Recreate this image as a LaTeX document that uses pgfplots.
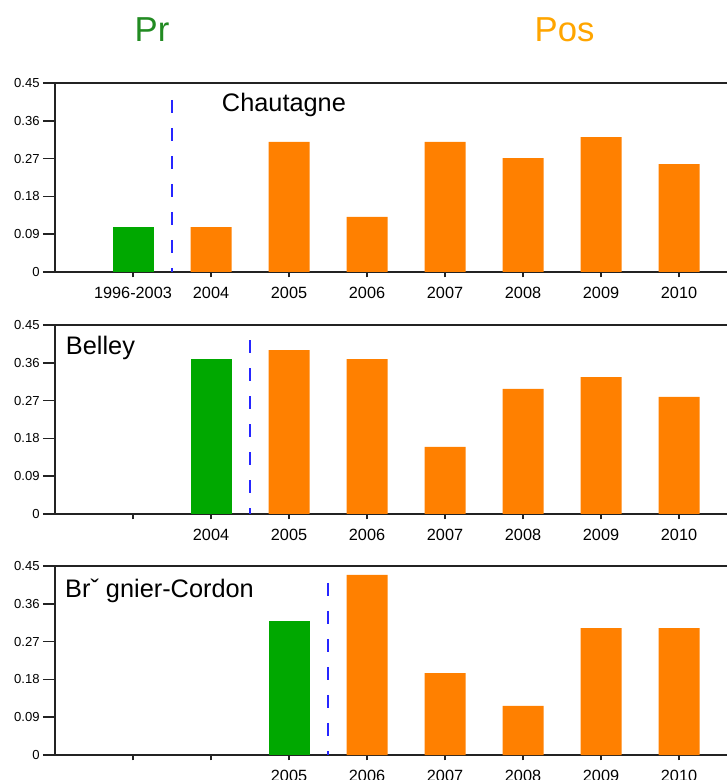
\documentclass[border=0pt]{standalone}
\usepackage{pgfplots}
\pgfplotsset{compat=1.18}
\usepackage{fontspec}
\setmainfont{Liberation Sans}
\definecolor{bargreen}{RGB}{0,168,0}
\definecolor{barorange}{RGB}{255,128,0}
\definecolor{titlegreen}{RGB}{34,139,34}
\definecolor{titleorange}{RGB}{255,165,0}
\definecolor{axisgray}{RGB}{35,35,35}
\pgfplotsset{
  panel/.style={
    scale only axis,
    width=504pt, height=141.75pt,
    anchor=south west,
    xmin=0, xmax=8.615,
    ymin=0, ymax=0.45,
    axis x line=box, axis y line=left,
    axis line style={-, draw=axisgray, line width=1.1pt},
    xtick={1,2,3,4,5,6,7,8},
    xtick pos=lower,
    ytick={0,0.09,0.18,0.27,0.36,0.45},
    yticklabels={0,0.09,0.18,0.27,0.36,0.45},
    tick align=outside,
    major tick length=9pt,
    x tick style={/pgfplots/major tick length=4pt},
    tick style={draw=axisgray, line width=1.1pt},
    /pgf/number format/assume math mode=true,
    yticklabel style={font=\fontsize{9.8pt}{12pt}\selectfont, xshift=1pt},
    xticklabel style={font=\fontsize{12.2pt}{14pt}\selectfont, yshift=1pt},
    clip=false,
  },
  gbar/.style={ybar, bar width=30.75pt, bar shift=0pt, fill=bargreen, draw=none},
  obar/.style={ybar, bar width=30.75pt, bar shift=0pt, fill=barorange, draw=none},
  sep/.style={draw=blue!85!white, line width=1.1pt, dash pattern=on 10pt off 11pt, mark=none},
}
\begin{document}
\begin{tikzpicture}
\useasboundingbox (0,0) rectangle (545.25pt,585pt);
\node[anchor=base, text=titlegreen, font=\fontsize{26pt}{30pt}\selectfont] at (114pt,553.5pt) {Pr};
\node[anchor=base, text=titleorange, font=\fontsize{26pt}{30pt}\selectfont] at (423.4pt,553.5pt) {Pos};

% Panel 1: Chautagne
\begin{axis}[panel, at={(41.25pt,381pt)},
  xticklabels={1996-2003,2004,2005,2006,2007,2008,2009,2010}]
\addplot[gbar] coordinates {(1,0.107)};
\addplot[obar] coordinates {(2,0.107) (3,0.310) (4,0.131) (5,0.310) (6,0.271) (7,0.321) (8,0.257)};
\addplot[sep] coordinates {(1.5,0.41) (1.5,0)};
\node[anchor=base west, font=\fontsize{19pt}{22pt}\selectfont] at (axis cs:2.08,0.381) {Chautagne};
\end{axis}

% Panel 2: Belley
\begin{axis}[panel, at={(41.25pt,199.5pt)},
  xticklabels={,2004,2005,2006,2007,2008,2009,2010}]
\addplot[gbar] coordinates {(2,0.369)};
\addplot[obar] coordinates {(3,0.390) (4,0.369) (5,0.160) (6,0.298) (7,0.326) (8,0.279)};
\addplot[sep] coordinates {(2.5,0.414) (2.5,0)};
\node[anchor=base west, font=\fontsize{19pt}{22pt}\selectfont] at (axis cs:0.08,0.379) {Belley};
\end{axis}

% Panel 3: Brégnier-Cordon
\begin{axis}[panel, at={(41.25pt,18.75pt)},
  xticklabels={,,2005,2006,2007,2008,2009,2010}]
\addplot[gbar] coordinates {(3,0.319)};
\addplot[obar] coordinates {(4,0.429) (5,0.195) (6,0.117) (7,0.302) (8,0.302)};
\addplot[sep] coordinates {(3.5,0.41) (3.5,0)};
\node[anchor=base west, font=\fontsize{19pt}{22pt}\selectfont] at (axis cs:0.07,0.374) {Brˇ gnier-Cordon};
\end{axis}
\end{tikzpicture}
\end{document}
